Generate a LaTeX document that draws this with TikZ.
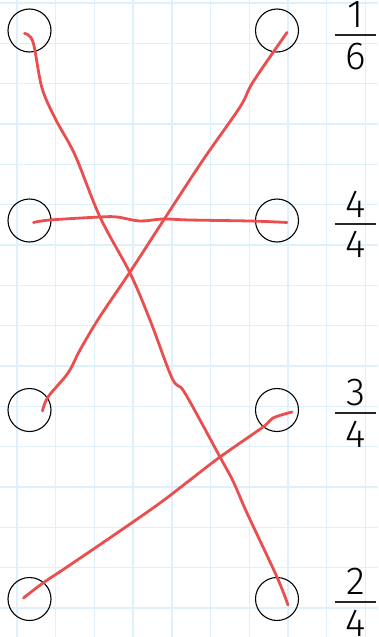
\documentclass[tikz,border=0pt]{standalone}
\usepackage{fontspec}
\usepackage{tikz}
\usetikzlibrary{positioning,calc}
\IfFontExistsTF{Fira Sans Light}
    {\newfontfamily\fracfont{Fira Sans Light}}
    {\newfontfamily\fracfont{Fira Sans}}
\definecolor{GridBlue}{RGB}{222,240,250}
\definecolor{RedInk}{RGB}{234,78,78}

\begin{document}
\begin{tikzpicture}[
    x=1pt, y=-1pt,
    gridline/.style = {draw=GridBlue, line width=1.4pt},
    dot/.style      = {circle, draw=black, line width=1.1pt,
                       minimum size=43pt, inner sep=0pt},
    ink/.style      = {draw=RedInk, line width=2.8pt, line cap=round,
                       line join=round, smooth, tension=0.55},
    num/.style      = {anchor=south, inner sep=0pt,
                       font=\fracfont\fontsize{39}{39}\selectfont},
    den/.style      = {anchor=north, inner sep=0pt,
                       font=\fracfont\fontsize{39}{39}\selectfont},
    fracbar/.style  = {draw=black!85, line width=2.6pt},
]
\useasboundingbox (0,0) rectangle (378,637);
\fill[white] (0,0) rectangle (378,637);

% ─── Squared paper ───────────────────────────────────────────────────────
\foreach \k in {0,...,9}
    \draw[gridline] ({17+38.7*\k},0) -- ({17+38.7*\k},637);
\foreach \k in {0,...,15}
    \draw[gridline] (0,{3+40.33*\k}) -- (378,{3+40.33*\k});

% ─── Circles ─────────────────────────────────────────────────────────────
\node[dot] (L1) at (29.5,30.5) {};
\node[dot] (L2) at (29.5,220.5) {};
\node[dot] (L3) at (29.5,410) {};
\node[dot] (L4) at (29.5,599) {};

\node[dot] (R1) at (277,30.5) {};
\node[dot] (R2) at (277,220.5) {};
\node[dot] (R3) at (277,410) {};
\node[dot] (R4) at (277,599) {};

% ─── Fractions ───────────────────────────────────────────────────────────
\draw[fracbar] (335,35) -- (376,35);
\node[num] (n1) at (356,28) {1};
\node[den] (d1) at (356,43) {6};

\draw[fracbar] (335,224) -- (376,224);
\node[num] (n2) at (356,218) {4};
\node[den] (d2) at (356,231) {4};

\draw[fracbar] (335,413) -- (376,413);
\node[num] (n3) at (356,406) {3};
\node[den] (d3) at (356,421) {4};

\draw[fracbar] (335,602) -- (376,602);
\node[num] (n4) at (356,595) {2};
\node[den] (d4) at (356,610) {4};

% ─── Hand-drawn matches ──────────────────────────────────────────────────
\coordinate (a0) at ([shift={(-5,3)}]L1.center);
\coordinate (a1) at ([shift={(11,6)}]R4.center);
\draw[ink] plot coordinates {(a0) (33,42) (42,88) (56,120) (75,155)
    (100,217) (130,273) (150,320) (172,378) (183,390) (200,420)
    (220,457) (233,481) (247,513) (277,577) (a1)};

\coordinate (b0) at ([shift={(13,1)}]L3.center);
\coordinate (b1) at ([shift={(10,2)}]R1.center);
\draw[ink] plot coordinates {(b0) (48,397) (68,373) (80,350) (99,318)
    (130,272) (165,218) (203,160) (240,107) (253,82) (b1)};

\coordinate (c0) at ([shift={(4,2)}]L2.center);
\coordinate (c1) at ([shift={(10,2)}]R2.center);
\draw[ink] plot coordinates {(c0) (50,220) (100,217) (117,217) (140,221)
    (163,219) (190,220) (250,221) (277,222) (c1)};

\coordinate (e0) at ([shift={(-6,-1)}]L4.center);
\coordinate (e1) at ([shift={(15,2)}]R3.center);
\draw[ink] plot coordinates {(e0) (43,583) (67,567) (117,533) (160,503)
    (190,480) (220,457) (263,427) (273,418) (e1)};

\end{tikzpicture}
\end{document}
